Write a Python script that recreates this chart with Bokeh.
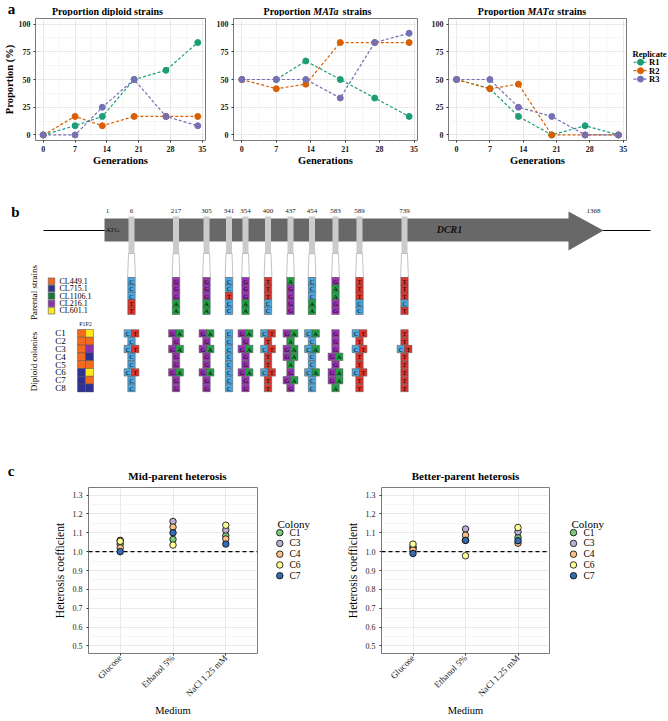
import math
from bokeh.plotting import figure
from bokeh.models import Range1d, FixedTicker, Span, NumeralTickFormatter
from bokeh.layouts import column, row
from bokeh.embed import file_html
from bokeh.resources import INLINE
from bokeh.core.properties import value

# ======================= DATA =======================
# ---- panel a: proportions (%) per sampled generation ----
generations = [0, 7, 13, 20, 27, 34]
generation_ticks = [0, 7, 14, 21, 28, 35]
proportion_ticks = [0, 25, 50, 75, 100]
replicates = ["R1", "R2", "R3"]

diploid_R1 = [0, 8.3, 16.7, 50, 58.3, 83.3]
diploid_R2 = [0, 16.7, 8.3, 16.7, 16.7, 16.7]
diploid_R3 = [0, 0, 25, 50, 16.7, 8.3]

mata_R1 = [50, 50, 66.7, 50, 33.3, 16.7]
mata_R2 = [50, 41.7, 45.8, 83.3, 83.3, 83.3]
mata_R3 = [50, 50, 50, 33.3, 83.3, 91.7]

matalpha_R1 = [50, 41.7, 16.7, 0, 8.3, 0]
matalpha_R2 = [50, 41.7, 45.8, 0, 0, 0]
matalpha_R3 = [50, 50, 25, 16.7, 0, 0]

# ---- panel b: DCR1 SNPs ----
gene_name = "DCR1"
gene_start = 1
gene_end = 1368
snp_positions = [6, 217, 305, 341, 354, 400, 437, 454, 583, 589, 739]
parental_strains = ["CL449.1", "CL715.1", "CL1106.1", "CL216.1", "CL601.1"]
alleles_CL449 = ["C", "G", "G", "C", "G", "T", "A", "C", "G", "T", "T"]
alleles_CL715 = ["C", "G", "G", "C", "G", "T", "G", "C", "A", "T", "T"]
alleles_CL1106 = ["C", "G", "G", "T", "G", "T", "G", "C", "A", "T", "T"]
alleles_CL216 = ["T", "A", "A", "C", "A", "C", "G", "A", "G", "C", "C"]
alleles_CL601 = ["T", "A", "A", "C", "A", "C", "G", "A", "G", "C", "T"]
diploid_colonies = ["C1", "C2", "C3", "C4", "C5", "C6", "C7", "C8"]
colony_parent1 = ["CL449.1", "CL449.1", "CL449.1", "CL449.1", "CL449.1",
                  "CL715.1", "CL715.1", "CL715.1"]
colony_parent2 = ["CL601.1", "CL449.1", "CL216.1", "CL715.1", "CL449.1",
                  "CL601.1", "CL449.1", "CL715.1"]

# ---- panel c: heterosis coefficients ----
media = ["Glucose", "Ethanol 5%", "NaCl 1.25 mM"]
colonies = ["C1", "C3", "C4", "C6", "C7"]
heterosis_ticks = [0.5, 0.6, 0.7, 0.8, 0.9, 1.0, 1.1, 1.2, 1.3]

mid_C1 = [1.04, 1.065, 1.085]
mid_C3 = [1.06, 1.16, 1.115]
mid_C4 = [1.02, 1.13, 1.067]
mid_C6 = [1.055, 1.035, 1.14]
mid_C7 = [1.0, 1.10, 1.04]

better_C1 = [1.02, 1.06, 1.075]
better_C3 = [1.025, 1.12, 1.105]
better_C4 = [1.01, 1.087, 1.045]
better_C6 = [1.04, 0.978, 1.128]
better_C7 = [0.99, 1.06, 1.058]

# ======================= STYLE =======================
SERIF = "Liberation Serif"
REP_COLORS = ["#1b9e77", "#d95f02", "#7570b3"]
COLONY_COLORS = ["#7fc97f", "#beaed4", "#fdc086", "#ffff99", "#386cb0"]
NUC_COLORS = {"C": "#4ea8de", "T": "#e0342c", "G": "#9a33b4", "A": "#22a046"}
STRAIN_COLORS = {"CL449.1": "#f26a1f", "CL715.1": "#2e3192", "CL1106.1": "#18783a",
                 "CL216.1": "#8e31b0", "CL601.1": "#ffe81a"}


def blank(width, height, xr, yr):
    """A figure without axes, used for text strips, legends and the schematic."""
    p = figure(width=width, height=height, x_range=Range1d(*xr), y_range=Range1d(*yr),
               x_axis_location=None, y_axis_location=None, output_backend="svg",
               toolbar_location=None, min_border=0)
    p.grid.visible = False
    p.outline_line_color = None
    return p


def gtext(p, xs, ys, texts, size, style="normal", align="center", angle=0, color="black"):
    p.text(x=xs, y=ys, text=texts, text_font=value(SERIF), text_font_size=value(size),
           text_font_style=value(style), text_align=value(align),
           text_baseline=value("middle"), angle=angle, text_color=color)


def style_axes(p, tick_size, tick_style):
    p.outline_line_color = "#7a7a7a"
    p.outline_line_width = 1
    for ax in (p.xaxis[0], p.yaxis[0]):
        ax.axis_line_color = None
        ax.major_tick_line_color = "#333333"
        ax.major_tick_in = 0
        ax.major_tick_out = 2
        ax.minor_tick_line_color = None
        ax.major_label_text_font = SERIF
        ax.major_label_text_font_size = tick_size
        ax.major_label_text_font_style = tick_style
        ax.major_label_text_color = "#1a1a1a"
        ax.major_label_standoff = 1
        ax.axis_label_text_font = SERIF
        ax.axis_label_text_color = "black"
    p.grid.grid_line_color = "#e3e3e3"
    p.grid.grid_line_width = 0.8
    p.grid.minor_grid_line_color = "#f0f0f0"
    p.grid.minor_grid_line_width = 0.6


def mixed_title(p, cx, y, parts, size):
    gap = 2.5
    total = sum(w for _, _, w in parts) + gap * (len(parts) - 1)
    x = cx - total / 2
    for text, style, w in parts:
        gtext(p, [x], [y], [text], size, style, "left")
        x += w + gap


# ======================= PANEL A =======================
STRIP_A_H = 16
A_H, A_TOP, A_BOTTOM = 175 - STRIP_A_H, 2, 35

strip_a = blank(668, STRIP_A_H, (0, 668), (STRIP_A_H, 0))
gtext(strip_a, [11], [8.5], ["a"], "15px", "bold")
mixed_title(strip_a, 107, 10.5, [("Proportion diploid strains", "bold", 111.1)], "10px")
mixed_title(strip_a, 317, 10.5, [("Proportion", "bold", 47.2), ("MATa", "bold italic", 26.7),
                                 ("strains", "bold", 28.9)], "10px")
mixed_title(strip_a, 531.5, 10.5, [("Proportion", "bold", 47.2), ("MATα", "bold italic", 27.2),
                                   ("strains", "bold", 28.9)], "10px")


def make_a(width, left, right, series, ylabel=None):
    p = figure(width=width, height=A_H, x_range=Range1d(-1.7, 35.7), y_range=Range1d(-5, 105),
               output_backend="svg", toolbar_location=None,
               min_border_left=left, min_border_right=right,
               min_border_top=A_TOP, min_border_bottom=A_BOTTOM)
    style_axes(p, "8px", "bold")
    mids = [(a + b) / 2 for a, b in zip(generation_ticks[:-1], generation_ticks[1:])]
    p.xaxis.ticker = FixedTicker(ticks=generation_ticks, minor_ticks=mids)
    ymids = [(a + b) / 2 for a, b in zip(proportion_ticks[:-1], proportion_ticks[1:])]
    p.yaxis.ticker = FixedTicker(ticks=proportion_ticks, minor_ticks=ymids)
    p.xaxis.axis_label = "Generations"
    p.xaxis.axis_label_text_font_size = "10.5px"
    p.xaxis.axis_label_text_font_style = "bold"
    p.xaxis.axis_label_standoff = 0
    if ylabel:
        p.yaxis.axis_label = ylabel
        p.yaxis.axis_label_text_font_size = "10.5px"
        p.yaxis.axis_label_text_font_style = "bold"
        p.yaxis.axis_label_standoff = 1
    for vals, col in zip(series, REP_COLORS):
        p.line(generations, vals, line_color=col, line_dash="3 2", line_width=1.2)
        p.scatter(generations, vals, size=6, fill_color=col, line_color=col)
    return p


a1 = make_a(213, 28, 8, [diploid_R1, diploid_R2, diploid_R3], ylabel="Proportion (%)")
a2 = make_a(215, 17, 11, [mata_R1, mata_R2, mata_R3])
a3 = make_a(202, 17, 4, [matalpha_R1, matalpha_R2, matalpha_R3])

# replicate legend (own small figure to the right of a3)
leg_a = blank(38, A_H, (0, 38), (A_H, 0))
rep_rows = [57 + 11 * i for i in range(len(replicates))]
gtext(leg_a, [2], [46], ["Replicate"], "8.5px", "bold", "left")
for yv, col in zip(rep_rows, REP_COLORS):
    leg_a.line([3, 17], [yv, yv], line_color=col, line_dash="3 2", line_width=1.2)
leg_a.scatter([10] * len(replicates), rep_rows, size=6, fill_color=REP_COLORS, line_color=REP_COLORS)
gtext(leg_a, [18.5] * len(replicates), rep_rows, replicates, "8.5px", "bold", "left")

# ======================= PANEL B =======================
pb = blank(668, 285, (0, 668), (460, 175))

COL_X = [131, 175.5, 206, 228.5, 245, 267.5, 290, 311.5, 335, 359, 404]
GENE_X0, BODY_X1, TIP_X, LINE_X0, LINE_X1 = 104, 568, 603, 43, 650
GENE_Y, BODY_T, BODY_B, HEAD_T, HEAD_B = 230, 218, 241, 211, 250
BAR_T, BAR_B, BOX_T0 = 216, 253, 277
PAR_H, DIP_T0, DIP_H, BOX_W = 7.4, 329, 7.8, 7.4
GENE_GRAY = "#686868"

pb.line([LINE_X0, LINE_X1], [GENE_Y, GENE_Y], line_color="black", line_width=1)
pb.patch([GENE_X0, BODY_X1, BODY_X1, TIP_X, BODY_X1, BODY_X1, GENE_X0],
         [BODY_T, BODY_T, HEAD_T, GENE_Y, HEAD_B, BODY_B, BODY_B],
         fill_color=GENE_GRAY, line_color=None)
gtext(pb, [GENE_X0 + 8], [GENE_Y - 1], ["ATG"], "7px", color="#151515")
gtext(pb, [449], [GENE_Y - 1], [gene_name], "10px", "bold italic", color="#111111")

gtext(pb, [GENE_X0 + 3] + COL_X + [593], [210] * (len(COL_X) + 2),
      [str(gene_start)] + [str(s) for s in snp_positions] + [str(gene_end)], "7px",
      color="#222222")

pb.rect(x=COL_X, y=(BAR_T + BAR_B) / 2, width=6, height=BAR_B - BAR_T,
        fill_color="#cbcbcb", line_color=None)
pb.patches([[c - 3, c + 3, c + 3.9, c - 3.9] for c in COL_X],
           [[BAR_B, BAR_B, BOX_T0, BOX_T0] for _ in COL_X],
           fill_color="white", line_color="#9a9a9a", line_width=0.6)

parent_alleles = dict(zip(parental_strains,
                          [alleles_CL449, alleles_CL715, alleles_CL1106, alleles_CL216, alleles_CL601]))

px, py, pt = [], [], []
for i, strain in enumerate(parental_strains):
    for j, c in enumerate(COL_X):
        px.append(c)
        py.append(BOX_T0 + (i + 0.5) * PAR_H)
        pt.append(parent_alleles[strain][j])
pb.rect(x=px, y=py, width=BOX_W, height=PAR_H, fill_color=[NUC_COLORS[t] for t in pt],
        line_color="#4d4d4d", line_width=0.5)
gtext(pb, px, py, pt, "6.5px")

par_rows = [BOX_T0 + (i + 0.5) * PAR_H for i in range(len(parental_strains))]
pb.rect(x=51, y=par_rows, width=6.5, height=6.5,
        fill_color=[STRAIN_COLORS[s] for s in parental_strains], line_color="#555555", line_width=0.6)
gtext(pb, [59] * len(parental_strains), par_rows, parental_strains, "8px", align="left")
gtext(pb, [33], [292], ["Parental strains"], "9px", angle=math.pi / 2)

ORDER = "CGAT"
dx, dy, dt = [], [], []
for k, (p1, p2) in enumerate(zip(colony_parent1, colony_parent2)):
    y = DIP_T0 + (k + 0.5) * DIP_H
    for j, c in enumerate(COL_X):
        g1, g2 = parent_alleles[p1][j], parent_alleles[p2][j]
        if g1 == g2:
            dx.append(c); dy.append(y); dt.append(g1)
        else:
            pair = sorted([g1, g2], key=ORDER.index)
            dx += [c - BOX_W / 2, c + BOX_W / 2]
            dy += [y, y]
            dt += pair
pb.rect(x=dx, y=dy, width=BOX_W, height=DIP_H - 0.4, fill_color=[NUC_COLORS[t] for t in dt],
        line_color="#4d4d4d", line_width=0.5)
gtext(pb, dx, dy, dt, "6.5px")

dip_rows = [DIP_T0 + (k + 0.5) * DIP_H for k in range(len(diploid_colonies))]
gtext(pb, [60] * len(diploid_colonies), dip_rows, diploid_colonies, "9px")
mx, my, mc = [], [], []
for k, (p1, p2) in enumerate(zip(colony_parent1, colony_parent2)):
    mx += [81, 89]
    my += [dip_rows[k], dip_rows[k]]
    mc += [STRAIN_COLORS[p1], STRAIN_COLORS[p2]]
pb.rect(x=mx, y=my, width=8, height=DIP_H, fill_color=mc, line_color="#555555", line_width=0.5)
gtext(pb, [85], [323], ["P1P2"], "6px", color="#222222")
gtext(pb, [33], [361], ["Diploid colonies"], "9px", angle=math.pi / 2)
gtext(pb, [15], [211], ["b"], "15px", "bold")

# ======================= PANEL C =======================
STRIP_C_H = 22
C_H, C_TOP, C_BOTTOM = 261 - STRIP_C_H, 5, 68
media_x = list(range(1, len(media) + 1))

strip_c = blank(668, STRIP_C_H, (0, 668), (STRIP_C_H, 0))
gtext(strip_c, [10.5], [10], ["c"], "15px", "bold")
gtext(strip_c, [177], [15], ["Mid-parent heterosis"], "11px", "bold")
gtext(strip_c, [465], [15], ["Better-parent heterosis"], "11px", "bold")


def make_c(width, left, right, values):
    p = figure(width=width, height=C_H, x_range=Range1d(0.4, 3.6), y_range=Range1d(0.46, 1.34),
               output_backend="svg", toolbar_location=None,
               min_border_left=left, min_border_right=right,
               min_border_top=C_TOP, min_border_bottom=C_BOTTOM)
    style_axes(p, "8px", "normal")
    p.xaxis.ticker = FixedTicker(ticks=media_x)
    p.xaxis.major_label_overrides = dict(zip(media_x, media))
    p.xaxis.major_label_orientation = math.pi / 4
    p.xaxis.major_label_text_font_size = "9px"
    ymids = [(a + b) / 2 for a, b in zip(heterosis_ticks[:-1], heterosis_ticks[1:])]
    p.yaxis.ticker = FixedTicker(ticks=heterosis_ticks, minor_ticks=ymids)
    p.yaxis.formatter = NumeralTickFormatter(format="0.0")
    p.yaxis.major_label_standoff = 2
    p.xaxis.axis_label = "Medium"
    p.xaxis.axis_label_text_font_size = "10.5px"
    p.xaxis.axis_label_text_font_style = "normal"
    p.xaxis.axis_label_standoff = 0
    p.yaxis.axis_label = "Heterosis coefficient"
    p.yaxis.axis_label_text_font_size = "11.5px"
    p.yaxis.axis_label_text_font_style = "normal"
    p.yaxis.axis_label_standoff = 4
    p.add_layout(Span(location=1.0, dimension="width", line_color="black", line_dash="4 3",
                      line_width=1.1, level="underlay"))
    for vals, col in zip(values, COLONY_COLORS):
        p.scatter(media_x, vals, size=6.5, fill_color=col, line_color="black", line_width=0.8)
    return p


def colony_legend(width, title_x, glyph_x, label_x):
    lg = blank(width, C_H, (0, width), (C_H, 0))
    rows = [65 + 15.5 * i for i in range(len(colonies))]
    gtext(lg, [title_x], [53], ["Colony"], "11px", "normal", "left")
    lg.scatter([glyph_x] * len(colonies), rows, size=6.5, fill_color=COLONY_COLORS,
               line_color="black", line_width=0.8)
    gtext(lg, [label_x] * len(colonies), rows, colonies, "9.5px", "normal", "left")
    return lg


c1 = make_c(262, 88, 5, [mid_C1, mid_C3, mid_C4, mid_C6, mid_C7])
leg_c1 = colony_legend(68, 15, 17.3, 27)
c2 = make_c(224, 51, 5, [better_C1, better_C3, better_C4, better_C6, better_C7])
leg_c2 = colony_legend(114, 17, 19, 29)

layout = column(strip_a, row(a1, a2, a3, leg_a), pb, strip_c, row(c1, leg_c1, c2, leg_c2))
open("out.html", "w").write(file_html(layout, INLINE))
